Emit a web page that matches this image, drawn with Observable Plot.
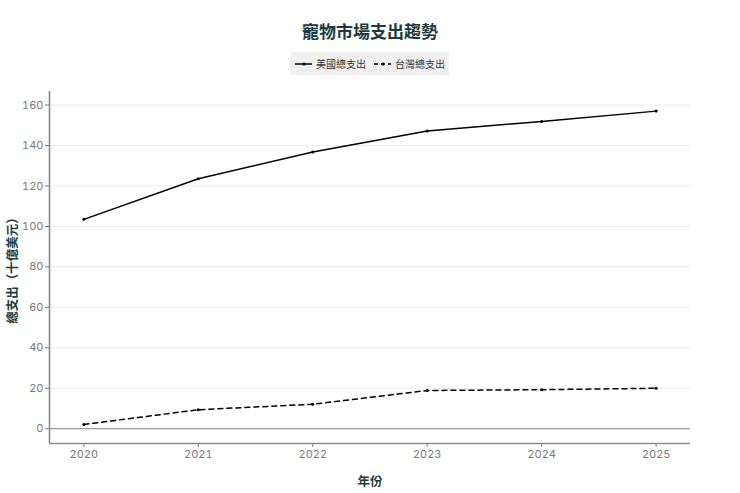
<!DOCTYPE html>
<html>
<head>
<meta charset="utf-8">
<script src="https://cdn.jsdelivr.net/npm/d3@7"></script>
<script src="https://cdn.jsdelivr.net/npm/@observablehq/plot@0.6"></script>
<style>
  body { margin:0; background:#fff; font-family: Inter, "Noto Sans CJK TC", sans-serif; }
  #wrap { width:740px; }
  #title { height:46px; padding-top:18px; box-sizing:border-box; text-align:center; font-family:"Noto Sans CJK TC", sans-serif; font-weight:700; font-size:17px; color:#1b3b3e; line-height:26px; }
  #legend { height:34px; display:flex; justify-content:center; align-items:flex-start; }
  #legend .box { margin-top:6px; background:#f0f0f0; display:flex; align-items:center; padding:4px 4px 4px 3px; font-family:"Noto Sans CJK TC", sans-serif; font-size:10px; color:#333; }
  #legend .item { display:flex; align-items:center; margin-right:7px; }
  #legend .item:last-child { margin-right:0; }
  #legend svg { margin-right:3px; }
</style>
</head>
<body>
<div id="wrap">
  <div id="title"></div>
  <div id="legend"><div class="box"></div></div>
  <div id="chart"></div>
</div>
<script>
const title = "寵物市場支出趨勢";
const years = [2020, 2021, 2022, 2023, 2024, 2025];
const seriesNames = ["美國總支出", "台灣總支出"];
const usValues = [103.5, 123.6, 136.8, 147.2, 151.9, 157.0];
const twValues = [2.1, 9.4, 12.1, 18.9, 19.3, 20.0];
const yTicks = [0, 20, 40, 60, 80, 100, 120, 140, 160];
const xLabel = "年份";
const yLabel = "總支出（十億美元）";

const dashes = ["none", "5,4"];
const data = [];
years.forEach((yr, i) => {
  data.push({year: yr, value: usValues[i], series: seriesNames[0]});
  data.push({year: yr, value: twValues[i], series: seriesNames[1]});
});

document.getElementById("title").textContent = title;
const box = document.querySelector("#legend .box");
seriesNames.forEach((name, i) => {
  const item = document.createElement("div");
  item.className = "item";
  item.innerHTML = `<svg width="19" height="10"><line x1="1" x2="18" y1="5" y2="5" stroke="#000" stroke-width="1.5" ${dashes[i] !== "none" ? `stroke-dasharray="4,3"` : ""}/><circle cx="10" cy="5" r="1.6" fill="#000"/></svg><span>${name}</span>`;
  box.appendChild(item);
});

const chart = Plot.plot({
  width: 740,
  height: 413,
  marginTop: 11,
  marginLeft: 49,
  marginRight: 50,
  marginBottom: 50,
  style: {fontFamily: "Inter, 'Noto Sans CJK TC', sans-serif", fontSize: "11px", background: "#fff"},
  x: {domain: [2019.7, 2025.3]},
  y: {domain: [-7.3, 166.7]},
  marks: [
    Plot.gridY(yTicks, {stroke: "#ececec", strokeOpacity: 1}),
    Plot.ruleY([0], {stroke: "#8a8a8a", strokeWidth: 1}),
    ...seriesNames.map((s, i) =>
      Plot.line(data.filter(d => d.series === s), {x: "year", y: "value", stroke: "#000", strokeWidth: 1.5, strokeDasharray: dashes[i] === "none" ? null : dashes[i]})
    ),
    Plot.dot(data, {x: "year", y: "value", r: 1.5, fill: "#000"}),
    Plot.axisY(yTicks, {tickSize: 4, stroke: "#7a7a7a", color: "#7a7a7a", tickPadding: 2, label: yLabel, labelAnchor: "center", labelArrow: "none", labelOffset: 41}),
    Plot.axisX(years, {tickSize: 4, stroke: "#7a7a7a", color: "#7a7a7a", tickFormat: d => String(d), tickPadding: 3, label: xLabel, labelAnchor: "center", labelArrow: "none", labelOffset: 42}),
    Plot.ruleX([2019.7], {stroke: "#8a8a8a", strokeWidth: 1.6}),
    Plot.ruleY([-7.3], {stroke: "#8a8a8a", strokeWidth: 1.6})
  ]
});
document.getElementById("chart").appendChild(chart);

d3.select(chart).selectAll('[aria-label="y-axis label"] text, [aria-label="x-axis label"] text')
  .attr("fill", "#1b3b3e")
  .style("font-weight", "700")
  .style("font-size", "12.5px")
  .style("font-family", "'Noto Sans CJK TC', sans-serif");
</script>
</body>
</html>
